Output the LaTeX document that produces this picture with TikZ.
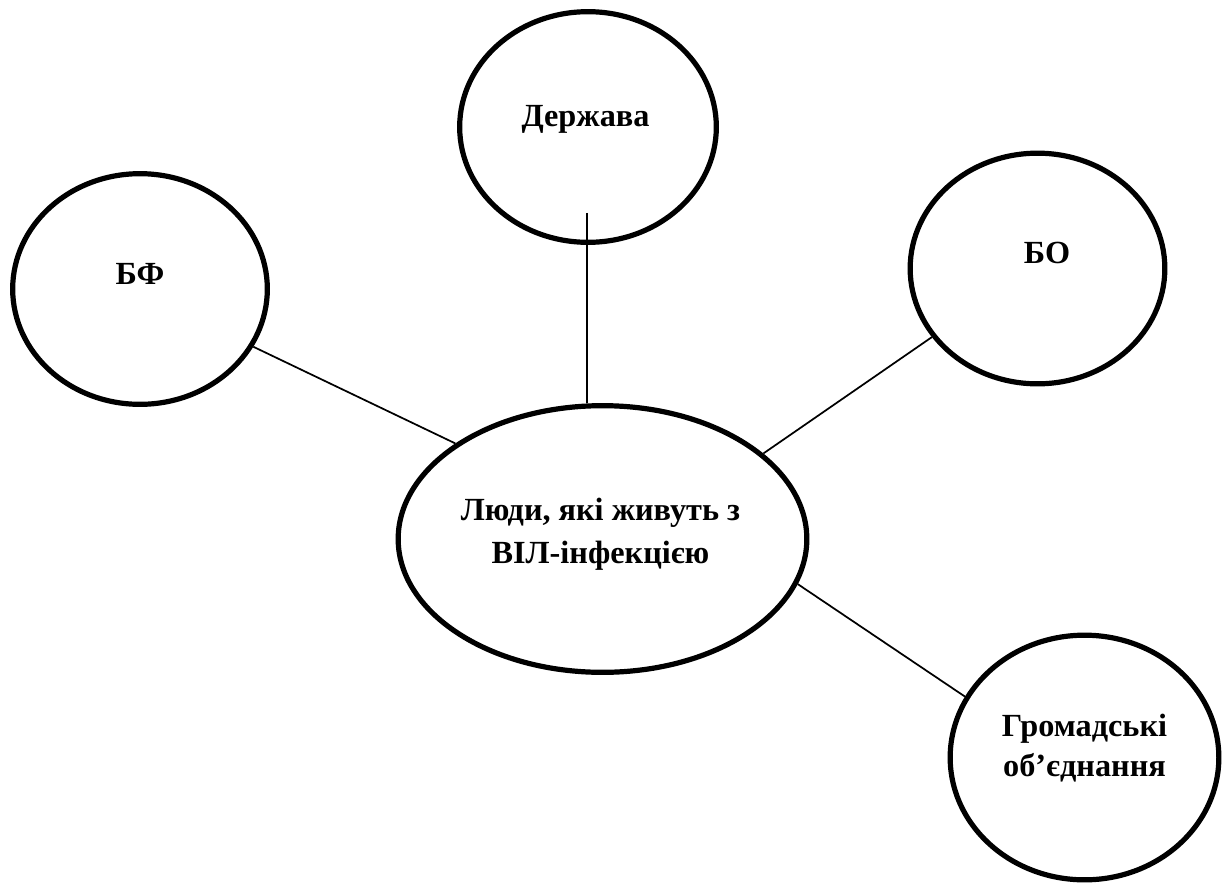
\documentclass[tikz,border=0pt]{standalone}
\usepackage{fontspec}
\setmainfont{Liberation Serif}
\usetikzlibrary{shapes.geometric}
\begin{document}
\begin{tikzpicture}[x = 0.75pt, y = -0.75pt,
  bubble/.style 2 args = {ellipse, draw, line width = 3.9pt, inner sep = 0pt,
                          minimum width = #1, minimum height = #2},
  caption/.style = {font = \bfseries\fontsize{24.2pt}{32.25pt}\selectfont,
                    align = center, inner sep = 0pt},
  link/.style = {line width = 1.3pt}]
  \def \hromadaskip {30pt};

  \useasboundingbox (0, 0) rectangle (1230, 885);

  % Draw the ellipses.
  \node[bubble = {191pt}{173pt}] (bf) at (140, 289) {};
  \node[bubble = {192.5pt}{173pt}] (derzh) at (588, 127) {};
  \node[bubble = {191pt}{173pt}] (bo) at (1037.5, 268.5) {};
  \node[bubble = {306.5pt}{200pt}] (centre) at (602.5, 539) {};
  \node[bubble = {201.5pt}{183.5pt}] (hromada) at (1084.5, 757.5) {};

  % Put the texts a little above the middle of each ellipse.
  \node[caption] (bfText) at ([shift = {(0, -15)}]bf.center) {БФ};
  \node[caption] (derzhText) at ([shift = {(-2.5, -7.5)}]derzh.center) {Держава};
  \node[caption] (boText) at ([shift = {(9.5, -16)}]bo.center) {БО};
  \node[caption] (centreText) at ([shift = {(-2, -4.5)}]centre.center)
    {Люди, які живуть з\\ВІЛ-інфекцією};
  \node[caption, font = \bfseries\fontsize{24.2pt}{\hromadaskip}\selectfont]
    (hromadaText) at ([shift = {(0, -9.5)}]hromada.center) {Громадські\\об’єднання};

  % Draw the links to the middle ellipse.
  \coordinate (derzhFoot) at ([shift = {(-1, -32)}]derzh.south);
  \draw[link] (derzhFoot) -- (derzhFoot |- centre.north);
  \draw[link] (bf.-27) -- (centre.147);
  \draw[link] (bo.213) -- (centre.28);
  \draw[link] (centre.-13) -- (hromada.153);
\end{tikzpicture}
\end{document}
